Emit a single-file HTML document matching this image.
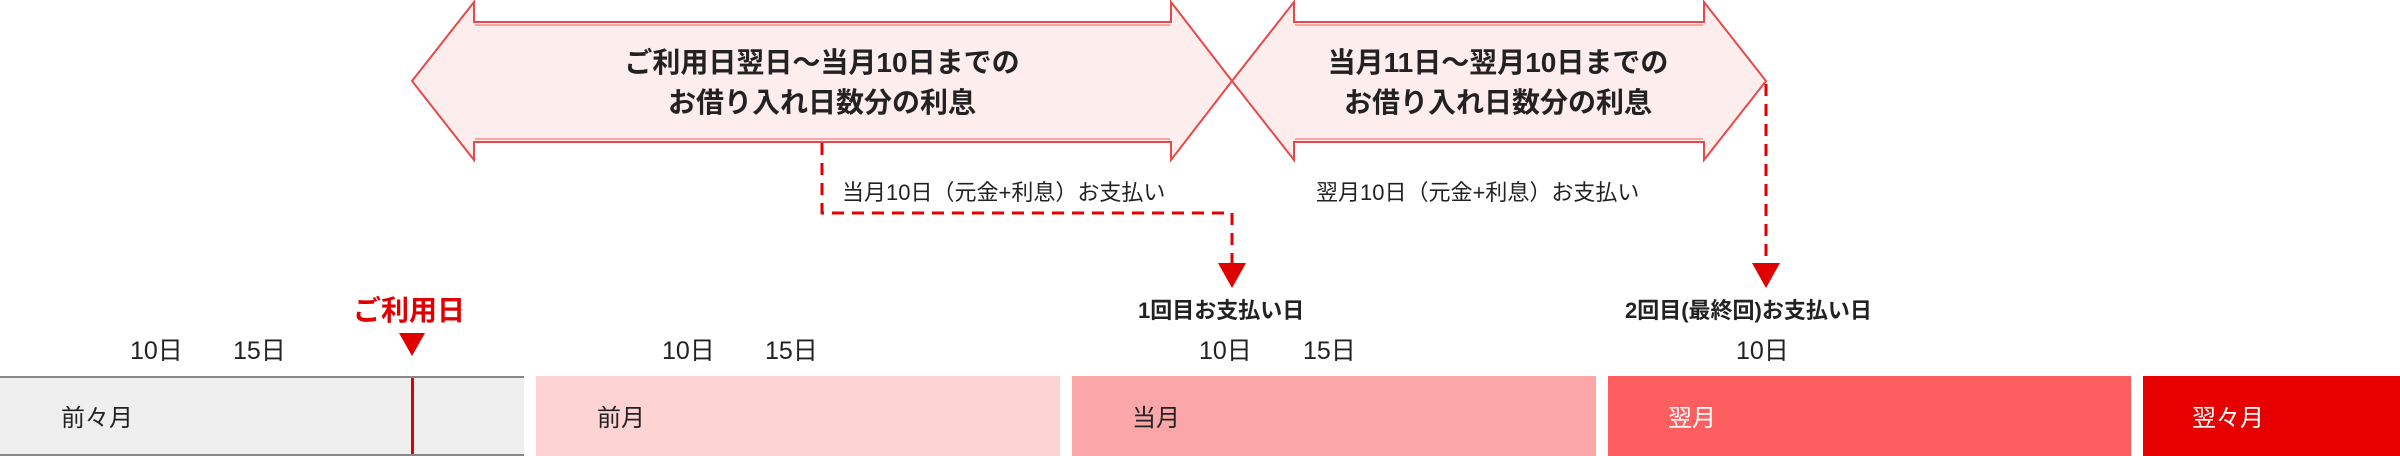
<!DOCTYPE html>
<html><head><meta charset="utf-8"><style>
html,body{margin:0;padding:0;background:#fff;}
svg{display:block;}
text{font-family:"Liberation Sans","Noto Sans CJK JP",sans-serif;}
</style></head><body>
<svg width="2400" height="456" viewBox="0 0 2400 456" xmlns="http://www.w3.org/2000/svg">
<polygon points="412,81 474,2 474,22 1171,22 1171,2 1232,81 1171,160 1171,142 474,142 474,160" fill="#fdeded"/>
<polygon points="1232,81 1294,2 1294,22 1704,22 1704,2 1766,81 1704,160 1704,142 1294,142 1294,160" fill="#fdeded"/>
<g fill="none" stroke="#e8484a" stroke-width="2">
<polygon points="412,81 474,2 474,22 1171,22 1171,2 1232,81 1171,160 1171,142 474,142 474,160"/>
<polygon points="1232,81 1294,2 1294,22 1704,22 1704,2 1766,81 1704,160 1704,142 1294,142 1294,160"/>
</g>
<g stroke="#f4a6a8" stroke-width="2">
<line x1="475" y1="25" x2="1170" y2="25"/><line x1="475" y1="139" x2="1170" y2="139"/>
<line x1="1295" y1="25" x2="1703" y2="25"/><line x1="1295" y1="139" x2="1703" y2="139"/>
</g>
<g font-size="28" font-weight="bold" fill="#222" text-anchor="middle">
<text x="822" y="72">ご利用日翌日〜当月10日までの</text>
<text x="822" y="112">お借り入れ日数分の利息</text>
<text x="1498" y="72">当月11日〜翌月10日までの</text>
<text x="1498" y="112">お借り入れ日数分の利息</text>
</g>
<g fill="none" stroke="#e00000" stroke-width="3" stroke-dasharray="12,8">
<polyline points="822,143 822,213 1232,213 1232,265"/>
<line x1="1766" y1="84" x2="1766" y2="265"/>
</g>
<g fill="#e00000">
<polygon points="1218,263 1246,263 1232,288"/>
<polygon points="1752,263 1780,263 1766,288"/>
<polygon points="399,333 425,333 412,356"/>
</g>
<g font-size="22" fill="#222">
<text x="842" y="200">当月10日（元金+利息）お支払い</text>
<text x="1316" y="200">翌月10日（元金+利息）お支払い</text>
</g>
<g font-size="22" font-weight="bold" fill="#222">
<text x="1138" y="318">1回目お支払い日</text>
<text x="1625" y="318">2回目(最終回)お支払い日</text>
</g>
<text x="353" y="320" font-size="28" font-weight="bold" fill="#e00000">ご利用日</text>
<g font-size="25" fill="#222">
<text x="130" y="359">10日</text><text x="233" y="359">15日</text>
<text x="662" y="359">10日</text><text x="765" y="359">15日</text>
<text x="1199" y="359">10日</text><text x="1303" y="359">15日</text>
<text x="1736" y="359">10日</text>
</g>
<rect x="0" y="376" width="524" height="80" fill="#efefef"/>
<rect x="0" y="376" width="524" height="2" fill="#888"/>
<rect x="0" y="454" width="524" height="2" fill="#888"/>
<rect x="411" y="378" width="3" height="76" fill="#e00000"/>
<rect x="536" y="376" width="524" height="80" fill="#fdd3d4"/>
<rect x="1072" y="376" width="524" height="80" fill="#fba7a9"/>
<rect x="1608" y="376" width="523" height="80" fill="#fd5f60"/>
<rect x="2143" y="376" width="257" height="80" fill="#e60000"/>
<g font-size="24">
<text x="61" y="426" fill="#222">前々月</text>
<text x="597" y="426" fill="#222">前月</text>
<text x="1132" y="426" fill="#222">当月</text>
<text x="1668" y="426" fill="#fff">翌月</text>
<text x="2192" y="426" fill="#fff">翌々月</text>
</g>
</svg>
</body></html>
